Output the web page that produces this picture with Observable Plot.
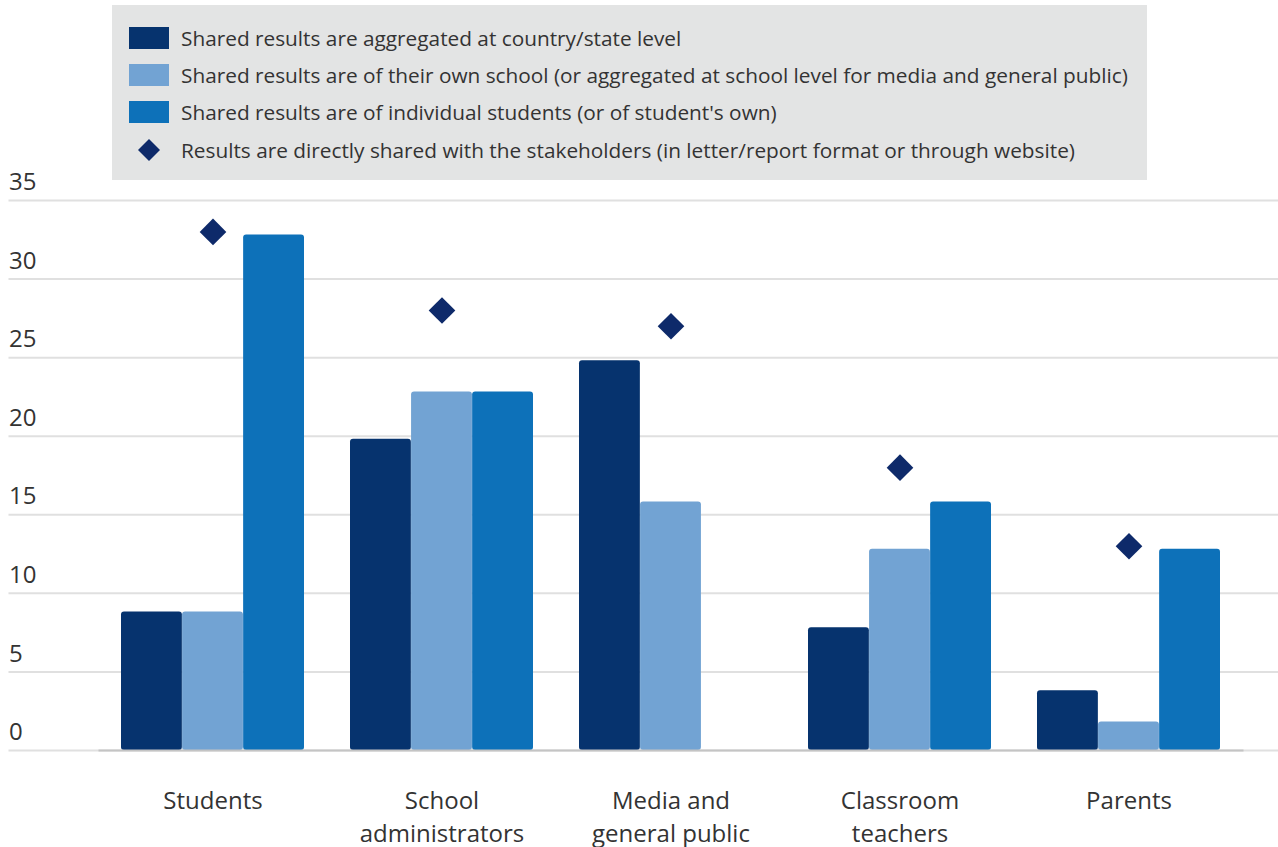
<!DOCTYPE html>
<html><head><meta charset="utf-8">
<script src="https://cdn.jsdelivr.net/npm/d3@7"></script>
<script src="https://cdn.jsdelivr.net/npm/@observablehq/plot@0.6"></script>
<style>
html,body{margin:0;padding:0;background:#fff;font-family:"Open Sans",sans-serif;}
#wrap{position:relative;width:1278px;height:847px;overflow:hidden;}
#legend{position:absolute;left:112px;top:5px;width:1035px;height:175px;background:#e3e4e4;box-sizing:border-box;padding-top:14px;padding-left:17px;z-index:2;}
.row{display:flex;align-items:center;height:37.3px;font-size:20.8px;color:#333;white-space:nowrap;}
.sw{width:40px;height:22px;margin-right:12px;flex:none;display:flex;align-items:center;justify-content:center;}
#chart{position:absolute;left:0;top:0;}
</style></head><body>
<div id="wrap"><div id="chart"></div><div id="legend"></div></div>
<script>
const categories = ["Students", "School\nadministrators", "Media and\ngeneral public", "Classroom\nteachers", "Parents"];
const seriesNames = [
  "Shared results are aggregated at country/state level",
  "Shared results are of their own school (or aggregated at school level for media and general public)",
  "Shared results are of individual students (or of student's own)"
];
const diamondName = "Results are directly shared with the stakeholders (in letter/report format or through website)";
const countryState = [9, 20, 25, 8, 4];
const ownSchool = [9, 23, 16, 13, 2];
const individual = [33, 23, 0, 16, 13];
const directlyShared = [33, 28, 27, 18, 13];
const yTicks = [0, 5, 10, 15, 20, 25, 30, 35];
const colors = ["#06336e", "#72a3d3", "#0d71b9"];
const diamondColor = "#0e2a6a";

const seriesValues = [countryState, ownSchool, individual];
const dotData = categories.map((c, i) => ({cat: c, value: directlyShared[i]}));

// Legend
const legend = document.getElementById("legend");
seriesNames.forEach((s, j) => {
  const row = document.createElement("div"); row.className = "row";
  const sw = document.createElement("div"); sw.className = "sw"; sw.style.background = colors[j];
  const t = document.createElement("span"); t.textContent = s;
  row.append(sw, t); legend.append(row);
});
{
  const row = document.createElement("div"); row.className = "row";
  const sw = document.createElement("div"); sw.className = "sw";
  sw.innerHTML = `<svg width="22" height="22" viewBox="-11 -11 22 22"><path d="M0,-11L11,0L0,11L-11,0Z" fill="${diamondColor}"/></svg>`;
  const t = document.createElement("span"); t.textContent = diamondName;
  row.append(sw, t); legend.append(row);
}

const W = 1278, ML = 98.5, MR = 34.5, padIn = 0.2, padOut = 0.1;
// band width of the x scale, derived from its own parameters
const step = (W - ML - MR) / (categories.length - padIn + 2 * padOut);
const sub = step * (1 - padIn) / seriesNames.length;

const barMarks = seriesNames.map((s, j) =>
  Plot.barY(categories.map((c, i) => ({cat: c, value: seriesValues[j][i]})).filter(d => d.value > 0), {
    x: "cat", y: "value", fill: colors[j], rx: 3, insetTop: 3,
    insetLeft: j * sub, insetRight: (seriesNames.length - 1 - j) * sub
  })
);

const chart = Plot.plot({
  width: W,
  height: 847,
  marginTop: 200,
  marginBottom: 97,
  marginLeft: ML,
  marginRight: MR,
  style: {fontFamily: "'Open Sans', sans-serif", fontSize: "24px", color: "#333", background: "transparent"},
  x: {domain: categories, paddingInner: padIn, paddingOuter: padOut, label: null},
  y: {domain: [0, 35], axis: null},
  marks: [
    Plot.ruleY(yTicks, {y: d => d, stroke: "#e0e0e0", strokeWidth: 2, insetLeft: -90, insetRight: -35}),
    Plot.text(yTicks, {y: d => d, text: d => String(d), frameAnchor: "left", textAnchor: "start", dx: -90, dy: -18, fontSize: 24, fill: "#333"}),
    ...barMarks,
    Plot.ruleY([0], {stroke: "#c4c4c4", strokeWidth: 2}),
    Plot.dot(dotData, {x: "cat", y: "value", symbol: "diamond2", r: 12, fill: diamondColor, stroke: "none"}),
    Plot.axisX({tickSize: 0, tickPadding: 35, fontSize: 24, lineHeight: 1.375, label: null, fill: "#333"})
  ]
});
document.getElementById("chart").append(chart);
</script>
</body></html>
